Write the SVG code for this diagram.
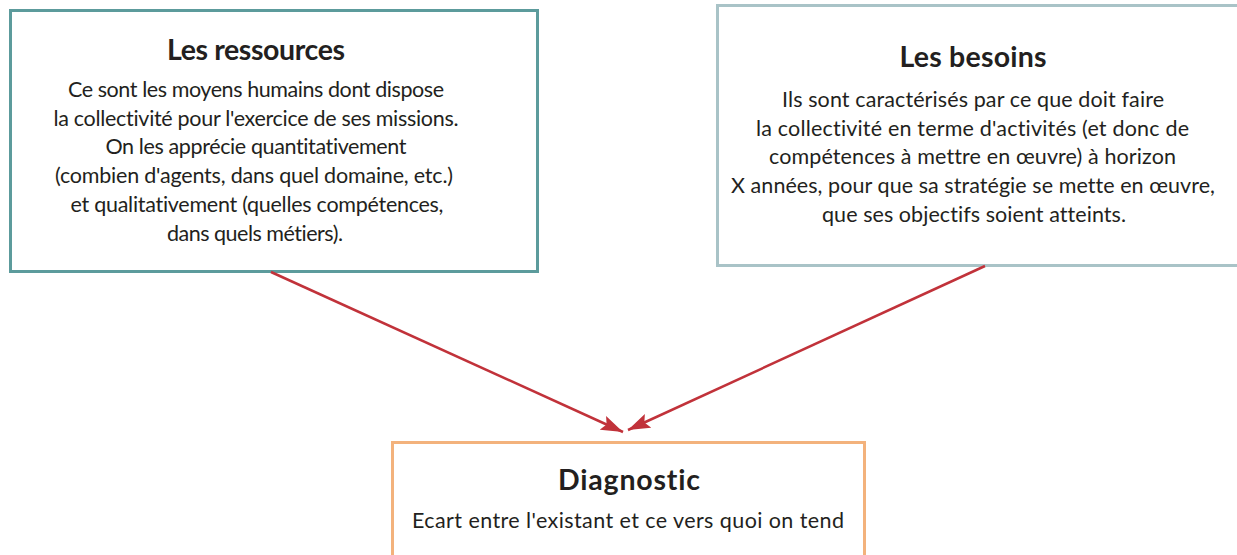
<svg xmlns="http://www.w3.org/2000/svg" width="1237" height="555" viewBox="0 0 1237 555">
  <style>
    .box { fill: #ffffff; stroke-width: 3; }
    .title { font-family: Lato, "Open Sans", sans-serif; font-weight: bold; font-size: 28.5px; fill: #231f20; text-anchor: middle; font-variant-ligatures: none; }
    .body { font-family: Lato, "Open Sans", sans-serif; font-size: 21.5px; fill: #231f20; text-anchor: middle; font-variant-ligatures: none; }
    .edge { fill: none; stroke: #c1323a; stroke-width: 2.5; }
  </style>
  <defs>
    <marker id="arrow" viewBox="0 0 22 15" refX="22" refY="7.5" markerWidth="22" markerHeight="15" markerUnits="userSpaceOnUse" orient="auto">
      <path d="M0,0 L22,7.5 L0,15 L4,7.5 Z" fill="#c1323a"/>
    </marker>
  </defs>
  <rect width="1237" height="555" fill="#ffffff"/>

  <g id="ressources">
    <rect class="box" x="10.5" y="10.5" width="527" height="261" stroke="#5c9b9c"/>
    <text class="title" x="256" y="60" textLength="178" lengthAdjust="spacing">Les ressources</text>
    <text class="body" x="256" y="97" textLength="376" lengthAdjust="spacing">Ce sont les moyens humains dont dispose</text>
    <text class="body" x="256" y="126" textLength="405" lengthAdjust="spacing">la collectivité pour l'exercice de ses missions.</text>
    <text class="body" x="256" y="154" textLength="301" lengthAdjust="spacing">On les apprécie quantitativement</text>
    <text class="body" x="254" y="183" textLength="398" lengthAdjust="spacing">(combien d'agents, dans quel domaine, etc.)</text>
    <text class="body" x="257" y="212" textLength="373" lengthAdjust="spacing">et qualitativement (quelles compétences,</text>
    <text class="body" x="255" y="241" textLength="176" lengthAdjust="spacing">dans quels métiers).</text>
  </g>

  <g id="besoins">
    <rect class="box" x="717.5" y="5.5" width="530" height="260" stroke="#a9c3c7"/>
    <text class="title" x="973" y="67" textLength="147" lengthAdjust="spacing">Les besoins</text>
    <text class="body" x="973" y="107" textLength="382" lengthAdjust="spacing">Ils sont caractérisés par ce que doit faire</text>
    <text class="body" x="972.5" y="136" textLength="433" lengthAdjust="spacing">la collectivité en terme d'activités (et donc de</text>
    <text class="body" x="972.5" y="164" textLength="407" lengthAdjust="spacing">compétences à mettre en œuvre) à horizon</text>
    <text class="body" x="973" y="193" textLength="484" lengthAdjust="spacing">X années, pour que sa stratégie se mette en œuvre,</text>
    <text class="body" x="974" y="222" textLength="304" lengthAdjust="spacing">que ses objectifs soient atteints.</text>
  </g>

  <g id="diagnostic">
    <rect class="box" x="392.5" y="442.5" width="472" height="130" stroke="#f3b27c"/>
    <text class="title" x="629" y="490" textLength="142" lengthAdjust="spacing">Diagnostic</text>
    <text class="body" x="628" y="528" textLength="432" lengthAdjust="spacing">Ecart entre l'existant et ce vers quoi on tend</text>
  </g>

  <g id="connectors">
    <line class="edge" x1="271" y1="272" x2="623" y2="432" marker-end="url(#arrow)"/>
    <line class="edge" x1="985" y1="266" x2="628" y2="430" marker-end="url(#arrow)"/>
  </g>
</svg>
